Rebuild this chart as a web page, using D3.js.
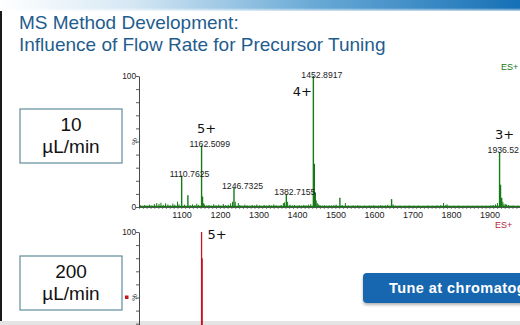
<!DOCTYPE html>
<html>
<head>
<meta charset="utf-8">
<script src="https://cdn.jsdelivr.net/npm/d3@7"></script>
<style>
  html, body { margin: 0; padding: 0; background: #ffffff; }
  svg { display: block; }
</style>
</head>
<body>
<svg id="slide" width="520" height="325"></svg>
<script>
// Slide text
const titleLines = ["MS Method Development:", "Influence of Flow Rate for Precursor Tuning"];
const flowLabels = [["10", "\u00b5L/min"], ["200", "\u00b5L/min"]];
const calloutText = "Tune at chromatographic flow rate";

// Axis ticks
const mzTicks = [1100, 1200, 1300, 1400, 1500, 1600, 1700, 1800, 1900];
const pctTicks = [0, 10, 20, 30, 40, 50, 60, 70, 80, 90, 100];

// 10 uL/min spectrum: labelled peaks [m/z, %, charge]
const labelledTop = [
  [1110.7625, 24, ""],
  [1162.5099, 47, "5+"],
  [1246.7325, 15, ""],
  [1382.7155, 10, ""],
  [1452.8917, 100, "4+"],
  [1936.52, 42, "3+"]
];
// 10 uL/min spectrum: isotope / adduct peaks [m/z, %]
const minorTop = [
  [1100, 4], [1127, 9], [1165, 8], [1168, 3], [1250, 4], [1258, 3],
  [1375, 3], [1386, 4], [1455.4, 33], [1457.9, 11], [1460.4, 5], [1463, 3],
  [1466, 2], [1521.8, 7], [1536, 3], [1656, 6], [1660, 2], [1791, 3],
  [1800, 2], [1939, 17], [1942, 7], [1945, 4], [1948, 2.5], [1952, 2]
];
// 10 uL/min spectrum: baseline noise [m/z, %]
const noiseTop = [
  [1004, 1.2], [1009, 0.8], [1015, 1.5], [1021, 0.9], [1027, 1.8], [1033, 1.1],
  [1040, 2.2], [1046, 3.0], [1052, 2.4], [1057, 3.2], [1063, 1.6], [1069, 2.8],
  [1075, 2.0], [1081, 1.3], [1088, 2.6], [1093, 1.7], [1104, 2.1], [1118, 1.8],
  [1133, 1.4], [1139, 2.0], [1145, 1.2], [1150, 2.5], [1155, 1.6], [1170, 1.9],
  [1176, 1.1], [1182, 1.5], [1188, 0.9], [1194, 2.1], [1200, 1.3], [1207, 1.8],
  [1213, 1.0], [1219, 2.3], [1225, 1.4], [1232, 1.7], [1238, 2.8], [1243, 4.0],
  [1262, 1.5], [1268, 1.0], [1275, 1.8], [1281, 1.2], [1288, 0.9], [1294, 1.6],
  [1300, 1.1], [1306, 1.9], [1313, 1.2], [1319, 0.8], [1325, 1.5], [1331, 1.0],
  [1338, 1.7], [1344, 1.1], [1350, 2.0], [1356, 1.3], [1363, 1.0], [1369, 1.6],
  [1378, 3.5], [1392, 1.8], [1398, 1.2], [1404, 1.5], [1410, 0.9], [1416, 1.4],
  [1422, 1.0], [1428, 1.6], [1434, 1.2], [1440, 1.8], [1446, 2.2], [1470, 1.5],
  [1476, 1.0], [1482, 1.3], [1488, 0.8], [1494, 1.2], [1500, 1.0], [1506, 1.4],
  [1512, 1.8], [1528, 1.5], [1544, 1.1], [1550, 0.8], [1556, 1.2], [1562, 0.9],
  [1568, 1.3], [1574, 1.0], [1580, 0.7], [1586, 1.1], [1592, 0.8], [1598, 1.2],
  [1604, 0.9], [1610, 1.3], [1616, 0.8], [1622, 1.0], [1628, 1.4], [1634, 0.9],
  [1640, 1.2], [1646, 1.6], [1666, 1.0], [1672, 0.8], [1678, 1.1], [1684, 0.7],
  [1690, 1.0], [1696, 0.8], [1702, 1.2], [1708, 0.7], [1714, 1.0], [1720, 0.8],
  [1726, 1.1], [1732, 0.7], [1738, 0.9], [1744, 0.8], [1750, 1.1], [1756, 0.7],
  [1762, 1.0], [1768, 0.8], [1774, 1.2], [1784, 1.4], [1797, 1.5], [1806, 0.9],
  [1812, 0.7], [1818, 1.0], [1824, 0.8], [1830, 1.1], [1836, 0.7], [1842, 0.9],
  [1848, 0.8], [1854, 1.0], [1860, 0.7], [1866, 0.9], [1872, 0.8], [1878, 1.0],
  [1884, 0.7], [1890, 0.9], [1896, 0.8], [1902, 1.0], [1908, 0.9], [1914, 1.2],
  [1920, 1.5], [1926, 2.0], [1931, 3.0], [1955, 2.0], [1960, 1.5], [1966, 1.0],
  [1972, 1.2], [1978, 0.8], [1984, 1.0], [1990, 0.8]
];

// 200 uL/min spectrum: [m/z, %, charge]
const peaksBottom = [
  [1162.51, 100, "5+"],
  [1164.0, 80, ""]
];

const W = 520, H = 325;
const svg = d3.select("#slide");
const FONT = "'Liberation Sans', Arial, Helvetica, sans-serif";
const GREEN = "#167a16";
const RED = "#c8141e";

// ---- slide chrome ----
const defs = svg.append("defs");
const grad = defs.append("linearGradient").attr("id", "topband")
  .attr("x1", "0%").attr("x2", "100%").attr("y1", "0%").attr("y2", "0%");
grad.append("stop").attr("offset", "0%").attr("stop-color", "#ffffff");
grad.append("stop").attr("offset", "25%").attr("stop-color", "#d6e8f4");
grad.append("stop").attr("offset", "60%").attr("stop-color", "#6aaad6");
grad.append("stop").attr("offset", "100%").attr("stop-color", "#1670b6");
const fade = defs.append("linearGradient").attr("id", "bandfade")
  .attr("x1", "0").attr("x2", "0").attr("y1", "0").attr("y2", "1");
fade.append("stop").attr("offset", "0%").attr("stop-color", "#fff").attr("stop-opacity", 0);
fade.append("stop").attr("offset", "100%").attr("stop-color", "#fff").attr("stop-opacity", 1);

const shadow = defs.append("filter").attr("id", "btnshadow")
  .attr("x", "-10%").attr("y", "-20%").attr("width", "130%").attr("height", "160%");
shadow.append("feDropShadow").attr("dx", 0).attr("dy", 2).attr("stdDeviation", 1.6)
  .attr("flood-color", "#000").attr("flood-opacity", 0.3);

svg.append("rect").attr("x", 0).attr("y", 0).attr("width", W).attr("height", 11)
  .attr("fill", "url(#topband)");
svg.append("rect").attr("x", 0).attr("y", 8).attr("width", W).attr("height", 4)
  .attr("fill", "url(#bandfade)");
svg.append("rect").attr("x", 0).attr("y", 11).attr("width", 2).attr("height", H - 11)
  .attr("fill", "#1a1a1a");
svg.append("rect").attr("x", 0).attr("y", H - 4).attr("width", W).attr("height", 4)
  .attr("fill", "#e4e4e4");

// Title
svg.append("g").selectAll("text").data(titleLines).join("text")
  .attr("x", 19).attr("y", (d, i) => 29 + i * 22)
  .attr("font-family", FONT).attr("font-size", 19).attr("fill", "#1f5d8e")
  .text(d => d);

// Flow-rate boxes
const boxTops = [109, 256];
flowLabels.forEach((lines, i) => {
  const g = svg.append("g").attr("transform", `translate(20,${boxTops[i]})`);
  g.append("rect").attr("width", 102).attr("height", 54)
    .attr("fill", "#fff").attr("stroke", "#5f8d9c").attr("stroke-width", 1.2);
  g.selectAll("text").data(lines).join("text")
    .attr("x", 51).attr("y", (d, j) => 22 + j * 22)
    .attr("text-anchor", "middle").attr("font-family", FONT).attr("font-size", 19)
    .attr("fill", "#111").text(d => d);
});

// ---- spectra ----
const x = d3.scaleLinear().domain([1000, 2000]).range([139, 524]);
const yTop = d3.scaleLinear().domain([0, 100]).range([207, 76]);
const yBot = d3.scaleLinear().domain([0, 100]).range([363, 232]);

// intensity axis: ticks every 10 %, labels only at 0 and 100 when on the slide
function yAxis(scale, tx) {
  const g = svg.append("g").attr("transform", `translate(${tx},0)`)
    .call(d3.axisLeft(scale).tickValues(pctTicks.filter(v => scale(v) <= H))
      .tickSize(3).tickSizeOuter(0)
      .tickFormat(d => (d === 0 || d === 100) ? d : ""));
  g.select(".domain").attr("stroke", "#333").attr("stroke-width", 0.9);
  g.selectAll(".tick line").attr("stroke", "#333").attr("stroke-width", 0.8);
  g.selectAll(".tick text").attr("font-family", FONT).attr("font-size", 8.3)
    .attr("fill", "#222").attr("x", -3);
  g.append("text").attr("transform", `translate(-2,${scale(50)}) rotate(-90)`)
    .attr("text-anchor", "middle").attr("font-family", FONT).attr("font-size", 7.5)
    .attr("fill", "#333").text("%");
  return g;
}

// Top spectrum
const topG = svg.append("g");
const xAxisG = svg.append("g").attr("transform", `translate(0,${yTop(0)})`)
  .call(d3.axisBottom(x).tickValues(d3.range(1000, 2001, 10)).tickSize(2).tickSizeOuter(0)
    .tickFormat(d => mzTicks.includes(d) ? d : ""));
xAxisG.select(".domain").attr("stroke", "#333").attr("stroke-width", 0.8);
xAxisG.selectAll(".tick line").attr("stroke", "#3a6a3a").attr("stroke-width", 0.7);
xAxisG.selectAll(".tick text").attr("font-family", FONT).attr("font-size", 9)
  .attr("fill", "#222").attr("y", 5).attr("dx", 4);

yAxis(yTop, 139);

const allTop = noiseTop.concat(minorTop).concat(labelledTop.map(d => [d[0], d[1]]));
topG.selectAll("line.pk").data(allTop).join("line").attr("class", "pk")
  .attr("x1", d => x(d[0])).attr("x2", d => x(d[0]))
  .attr("y1", yTop(0)).attr("y2", d => yTop(d[1]))
  .attr("stroke", GREEN).attr("stroke-width", d => d[1] > 5 ? 1.4 : 1);
topG.append("line").attr("x1", x(1000)).attr("x2", W)
  .attr("y1", yTop(0) - 0.5).attr("y2", yTop(0) - 0.5)
  .attr("stroke", GREEN).attr("stroke-width", 1.3);

// m/z labels
topG.selectAll("text.mz").data(labelledTop).join("text").attr("class", "mz")
  .attr("x", d => x(d[0]) - 12).attr("y", d => yTop(d[1]) + 1.5)
  .attr("font-family", FONT).attr("font-size", 8.7)
  .attr("fill", "#222").text(d => d[0].toFixed(d[0] === 1936.52 ? 2 : 4));

// charge-state labels
function chargeLabels(g, data, scale) {
  g.selectAll("text.z").data(data.filter(d => d[2])).join("text").attr("class", "z")
    .attr("x", d => d[1] >= 95 ? x(d[0]) - 11 : x(d[0]) + 5)
    .attr("y", d => d[1] >= 95 ? scale(d[1]) + 20 : scale(d[1]) - 12.5)
    .attr("text-anchor", "middle").attr("font-family", "'DejaVu Sans', Verdana, sans-serif")
    .attr("font-size", 13).attr("fill", "#111").text(d => d[2]);
}
chargeLabels(topG, labelledTop, yTop);

svg.append("text").attr("x", 501).attr("y", 70).attr("font-family", FONT)
  .attr("font-size", 9).attr("fill", GREEN).text("ES+");

// Bottom spectrum
const botG = svg.append("g");
yAxis(yBot, 139);
botG.selectAll("line.pk").data(peaksBottom).join("line").attr("class", "pk")
  .attr("x1", d => x(d[0])).attr("x2", d => x(d[0]))
  .attr("y1", yBot(0)).attr("y2", d => yBot(d[1]))
  .attr("stroke", RED).attr("stroke-width", 1.3);
botG.selectAll("text.z").data(peaksBottom.filter(d => d[2])).join("text").attr("class", "z")
  .attr("x", d => x(d[0]) + 6).attr("y", d => yBot(d[1]) + 7)
  .attr("font-family", "'DejaVu Sans', Verdana, sans-serif")
  .attr("font-size", 13).attr("fill", "#111").text(d => d[2]);
svg.append("text").attr("x", 495).attr("y", 228).attr("font-family", FONT)
  .attr("font-size", 9).attr("fill", "#b32a3c").text("ES+");
svg.append("rect").attr("x", 125).attr("y", 295.5).attr("width", 3.5).attr("height", 3.5)
  .attr("fill", RED);

// Callout button
const btn = svg.append("g").attr("transform", "translate(363,273)");
btn.append("rect").attr("width", 180).attr("height", 30).attr("rx", 4)
  .attr("fill", "#1566b0").attr("filter", "url(#btnshadow)");
btn.append("text").attr("x", 26).attr("y", 19.5).attr("font-family", FONT)
  .attr("font-size", 14.5).attr("font-weight", "bold").attr("letter-spacing", 0.45)
  .attr("fill", "#fff").text(calloutText);
</script>
</body>
</html>
